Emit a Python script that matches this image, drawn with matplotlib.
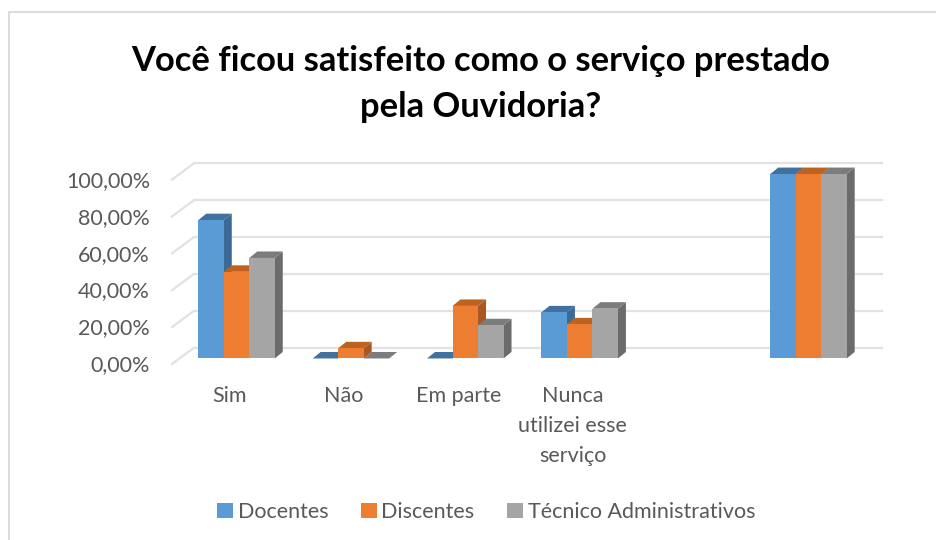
import matplotlib
matplotlib.use("Agg")
import matplotlib.pyplot as plt
from matplotlib.lines import Line2D
from matplotlib.patches import Polygon
from matplotlib.transforms import ScaledTranslation

title = "Você ficou satisfeito como o serviço prestado\npela Ouvidoria?"
# the fifth slot of the original chart is an empty category
categories = ["Sim", "Não", "Em parte", "Nunca\nutilizei esse\nserviço", "", ""]
docentes = [75, 0, 0, 25, None, 100]
discentes = [47, 5.5, 28.5, 18.5, None, 100]
tecnicos = [54.5, 0, 18, 27, None, 100]
y_ticks = [0, 20, 40, 60, 80, 100]
y_labels = ["0,00%", "20,00%", "40,00%", "60,00%", "80,00%", "100,00%"]

series = [
    ("Docentes", docentes, "#5B9BD5", "#3A6A98", "#41719C"),
    ("Discentes", discentes, "#ED7D31", "#A9561F", "#BE6220"),
    ("Técnico Administrativos", tecnicos, "#A5A5A5", "#6B6B6B", "#7C7C7C"),
]

W, H = 937, 540
PX_X = 114.4  # pixels per category
PX_Y = 1.845  # pixels per percent
BAR_W = 25.5 / PX_X

plt.rcParams["font.family"] = ["Lato", "DejaVu Sans"]

fig = plt.figure(figsize=(W / 100, H / 100), dpi=100)
fig.patch.set_facecolor("white")

# chart border, only the left and top edges show in the crop
fig.add_artist(Line2D([9 / W, 9 / W, 1], [0, 1 - 12 / H, 1 - 12 / H], transform=fig.transFigure,
                      color="#DADADA", lw=1.4))

ax = fig.add_axes([172 / W, 1 - 364 / H, 710 / W, 201 / H])
ax.set_xlim(-0.564, 5.643)
ax.set_ylim(-3, 106)
ax.patch.set_alpha(0)
for s in ax.spines.values():
    s.set_visible(False)

# depth of the 3d effect, in data units
bar_dx = 8 / PX_X
bar_dy = 6.5 / PX_Y
wall_dx = 22 / PX_X
wall_dy = 10.8 / PX_Y
wall_x0 = -0.564
floor_dy = -5.5 / PX_Y

for t in y_ticks:
    ax.plot([wall_x0, wall_x0 + wall_dx], [t + floor_dy, t + wall_dy],
            color="#E2E2E2", lw=1.6, zorder=1, clip_on=False)
    ax.plot([wall_x0 + wall_dx, 5.643], [t + wall_dy, t + wall_dy],
            color="#E2E2E2", lw=1.6, zorder=1, clip_on=False)

for i, (name, vals, col, side, top) in enumerate(series):
    xs = []
    hs = []
    for k, v in enumerate(vals):
        if v is None:
            continue
        x = k + (i - 1) * BAR_W
        xs.append(x)
        hs.append(v)
        x0, x1 = x - BAR_W / 2, x + BAR_W / 2
        z = 3 + i
        ax.add_patch(Polygon([(x1, 0), (x1 + bar_dx, bar_dy), (x1 + bar_dx, v + bar_dy), (x1, v)],
                             closed=True, facecolor=side, edgecolor="none", zorder=z))
        ax.add_patch(Polygon([(x0, v), (x0 + bar_dx, v + bar_dy), (x1 + bar_dx, v + bar_dy), (x1, v)],
                             closed=True, facecolor=top, edgecolor="none", zorder=z))
    ax.bar(xs, hs, width=BAR_W, color=col, zorder=3 + i, label=name)

ax.set_yticks(y_ticks)
ax.set_yticklabels(y_labels, fontsize=15.5, color="#595959")
ax.tick_params(axis="y", length=0, pad=15.8)
shift = ScaledTranslation(0, -3.5 / 72, fig.dpi_scale_trans)
for lab in ax.get_yticklabels():
    lab.set_transform(lab.get_transform() + shift)

ax.set_xticks(range(len(categories)))
ax.set_xticklabels(categories, fontsize=15.5, color="#595959", linespacing=1.62)
ax.tick_params(axis="x", length=0, pad=16)
shift_x = ScaledTranslation(-5 / 72, 0, fig.dpi_scale_trans)
for lab in ax.get_xticklabels():
    lab.set_transform(lab.get_transform() + shift_x)

fig.text(480.5 / W, 1 - 84 / H, title, ha="center", va="center", fontsize=24.8,
         fontweight="bold", color="black", linespacing=1.56)

handles, labels = ax.get_legend_handles_labels()
fig.legend(handles, labels, loc="center", bbox_to_anchor=(486 / W, 1 - 512 / H), ncol=3,
           frameon=False, fontsize=15.5, labelcolor="#595959", handlelength=0.75,
           handleheight=0.75, handletextpad=0.22, columnspacing=1.5)

fig.savefig("out.png", dpi=100)
